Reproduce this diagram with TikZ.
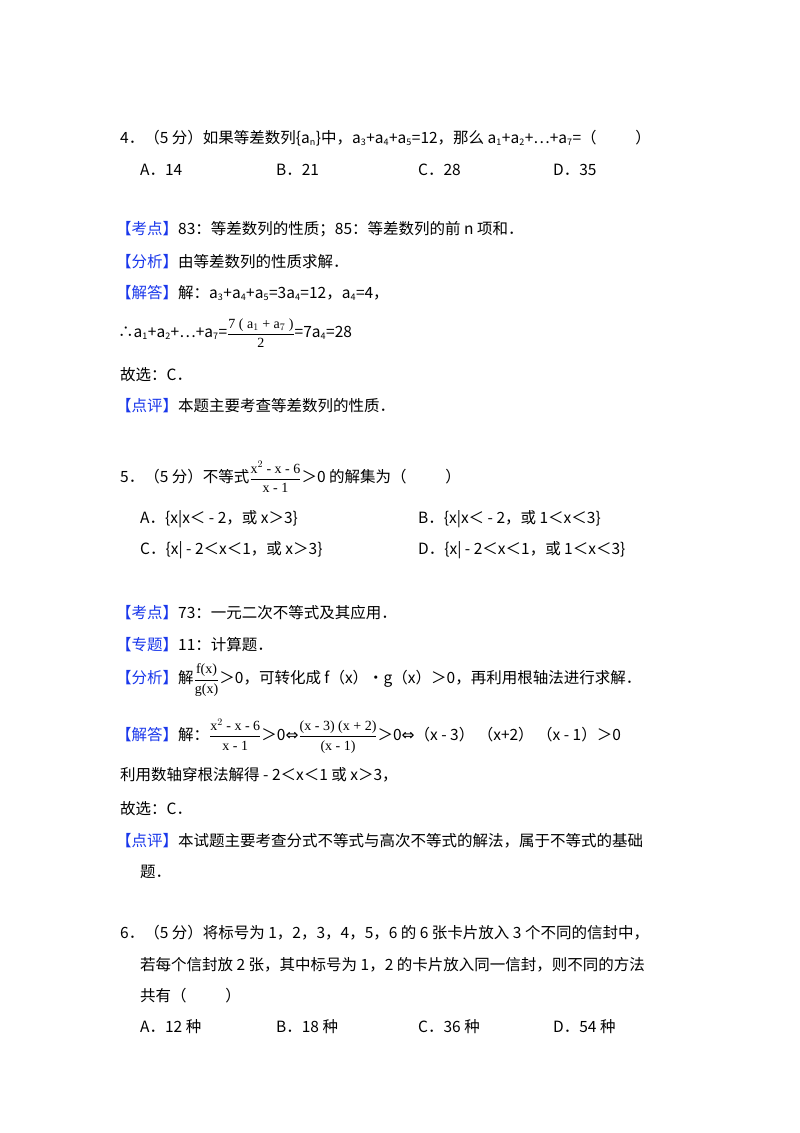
\documentclass[tikz,border=0pt]{standalone}
\usepackage{fontspec}
\setmainfont{Noto Sans CJK SC}
\newfontfamily\serf{Liberation Serif}
\newfontfamily\dv{DejaVu Sans}
\definecolor{kblue}{RGB}{25,55,235}
\newcommand{\ssb}[1]{\textsubscript{\fontsize{9}{9}\selectfont #1}}
\newcommand{\tg}[1]{\textcolor{kblue}{【#1】}}
\newcommand{\fr}[2]{$\displaystyle\frac{\hbox{\serf\fontsize{14}{14}\selectfont #1}}{\hbox{\serf\fontsize{14}{14}\selectfont #2}}$}
\begin{document}
\begin{tikzpicture}[x=1pt,y=-1pt,
  t/.style={anchor=west,inner sep=0pt,font=\fontsize{15.5}{17}\selectfont}]
\useasboundingbox[fill=white] (0,0) rectangle (800,1133);
% Q4
\node[t] (q4) at (120,138) {4．（5 分）如果等差数列\{a\ssb{n}\}中，a\ssb{3}+a\ssb{4}+a\ssb{5}=12，那么 a\ssb{1}+a\ssb{2}+…+a\ssb{7}=（\hspace{2.5em}）};
\node[t] (q4a) at (140,170) {A．14};
\node[t] (q4b) at (276,170) {B．21};
\node[t] (q4c) at (418,170) {C．28};
\node[t] (q4d) at (553,170) {D．35};
\node[t] (k4) at (116,229) {\tg{考点}83：等差数列的性质；85：等差数列的前 n 项和．};
\node[t] (f4) at (116,262) {\tg{分析}由等差数列的性质求解．};
\node[t] (j4) at (116,293) {\tg{解答}解：a\ssb{3}+a\ssb{4}+a\ssb{5}=3a\ssb{4}=12，a\ssb{4}=4，};
\node[t] (s4) at (118,333) {∴a\ssb{1}+a\ssb{2}+…+a\ssb{7}=\fr{7 ( a$_1$ + a$_7$ )}{2}=7a\ssb{4}=28};
\node[t] (g4) at (120,375) {故选：C．};
\node[t] (p4) at (116,406) {\tg{点评}本题主要考查等差数列的性质．};
% Q5
\node[t] (q5) at (120,477) {5．（5 分）不等式\fr{x$^2$ - x - 6}{x - 1}＞0 的解集为（\hspace{2.5em}）};
\node[t] (q5a) at (140,519) {A．\{x|x＜ - 2，或 x＞3\}};
\node[t] (q5b) at (418,519) {B．\{x|x＜ - 2，或 1＜x＜3\}};
\node[t] (q5c) at (140,550) {C．\{x| - 2＜x＜1，或 x＞3\}};
\node[t] (q5d) at (418,550) {D．\{x| - 2＜x＜1，或 1＜x＜3\}};
\node[t] (k5) at (116,613) {\tg{考点}73：一元二次不等式及其应用．};
\node[t] (z5) at (116,645) {\tg{专题}11：计算题．};
\node[t] (f5) at (116,680) {\tg{分析}解\fr{f(x)}{g(x)}＞0，可转化成 f（x）•g（x）＞0，再利用根轴法进行求解．};
\node[t] (j5) at (116,736) {\tg{解答}解：\fr{x$^2$ - x - 6}{x - 1}＞0{\dv ⇔}\fr{(x - 3) (x + 2)}{(x - 1)}＞0{\dv ⇔}（x - 3）\ （x+2）\ （x - 1）＞0};
\node[t] (l5) at (120,775) {利用数轴穿根法解得 - 2＜x＜1 或 x＞3，};
\node[t] (g5) at (120,809) {故选：C．};
\node[t] (p5) at (116,841) {\tg{点评}本试题主要考查分式不等式与高次不等式的解法，属于不等式的基础};
\node[t] (p5b) at (140,872) {题．};
% Q6
\node[t] (q6) at (120,933) {6．（5 分）将标号为 1，2，3，4，5，6 的 6 张卡片放入 3 个不同的信封中，};
\node[t] (q6b) at (140,965) {若每个信封放 2 张，其中标号为 1，2 的卡片放入同一信封，则不同的方法};
\node[t] (q6c) at (140,996) {共有（\hspace{2.5em}）};
\node[t] (q6a) at (140,1027) {A．12 种};
\node[t] (q6bb) at (276,1027) {B．18 种};
\node[t] (q6cc) at (418,1027) {C．36 种};
\node[t] (q6d) at (553,1027) {D．54 种};
\end{tikzpicture}
\end{document}
